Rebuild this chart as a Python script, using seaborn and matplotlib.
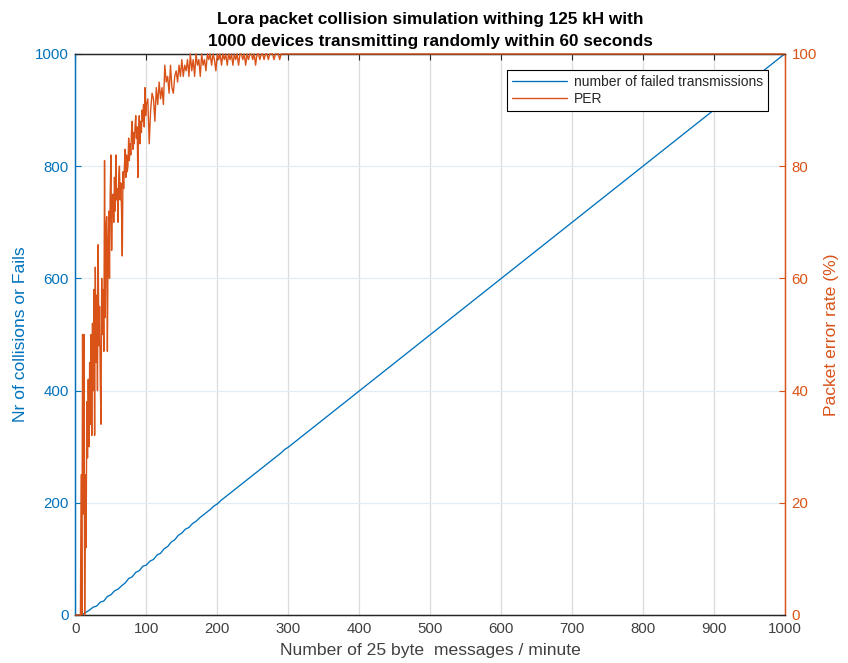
import matplotlib
matplotlib.use("Agg")
import matplotlib.pyplot as plt
import seaborn as sns
import pandas as pd

# ---------------- data ----------------
per_x = list(range(0, 101)) + list(range(102, 302, 2)) + [1000]
per_y = [
    0, 0, 0, 0, 0, 0, 0, 0, 25, 0,
    50, 18, 50, 0, 25, 12, 38, 28, 42, 30,
    45, 34, 50, 32, 52, 40, 58, 32, 62, 45,
    57, 40, 66, 48, 55, 42, 34, 60, 50, 58,
    47, 81, 53, 69, 71, 47, 66, 72, 60, 75,
    82, 65, 74, 75, 70, 78, 72, 82, 74, 76,
    70, 78, 80, 74, 77, 72, 64, 79, 76, 80,
    83, 78, 82, 79, 80, 85, 81, 84, 82, 86,
    88, 83, 86, 84, 87, 89, 85, 87, 78, 86,
    89, 84, 88, 86, 90, 88, 91, 87, 94, 89,
    91,
    # 102 .. 300 step 2
    92, 84, 90, 93, 92, 88, 94, 91, 95, 92,
    94, 91, 98, 95, 96, 93, 98, 94, 93, 96,
    97, 95, 98, 96, 99, 96, 98, 97, 99, 96,
    100, 97, 99, 96, 100, 98, 99, 96, 100, 98,
    99, 97, 100, 99, 100, 98, 100, 99, 97, 100,
    99, 100, 98, 100, 99, 100, 98, 100, 99, 100,
    98, 100, 99, 100, 98, 100, 100, 99, 100, 98,
    100, 99, 100, 100, 99, 100, 98, 100, 100, 99,
    100, 100, 99, 100, 100, 99, 100, 100, 100, 99,
    100, 100, 100, 99, 100, 100, 100, 100, 100, 100,
    # 1000
    100,
]

fail_x = list(range(0, 305, 5)) + [1000]
fail_y = [
    0, 0, 1, 5, 9, 14, 16, 23, 25, 33,
    36, 43, 46, 52, 57, 65, 68, 76, 79, 87,
    89, 96, 99, 107, 110, 118, 122, 130, 134, 142,
    146, 153, 156, 163, 167, 173, 178, 183, 188, 194,
    198, 204, 209, 214, 219, 224, 229, 234, 239, 244,
    249, 254, 259, 264, 269, 274, 279, 284, 289, 295,
    299, 1000,
]

x_ticks = [0, 100, 200, 300, 400, 500, 600, 700, 800, 900, 1000]
left_ticks = [0, 200, 400, 600, 800, 1000]
right_ticks = [0, 20, 40, 60, 80, 100]

title = ("Lora packet collision simulation withing 125 kH with\n"
         "1000 devices transmitting randomly within 60 seconds")
xlabel = "Number of 25 byte  messages / minute"
ylabel_left = "Nr of collisions or Fails"
ylabel_right = "Packet error rate (%)"
legend_labels = ["number of failed transmissions", "PER"]

# ---------------- style ----------------
sns.set_style("white")
plt.rcParams["font.family"] = ["Liberation Sans", "DejaVu Sans"]

BLUE = "#0072BD"
ORANGE = "#D95319"
AXGRAY = "#262626"

fig = plt.figure(figsize=(8.48, 6.63), dpi=100)
ax = fig.add_axes([0.0890, 0.0724, 0.8362, 0.8462])
ax2 = ax.twinx()

df_fail = pd.DataFrame({"x": fail_x, "y": fail_y})
df_per = pd.DataFrame({"x": per_x, "y": per_y})

sns.lineplot(data=df_fail, x="x", y="y", ax=ax, color=BLUE, linewidth=0.95,
             label=legend_labels[0], legend=False)
sns.lineplot(data=df_per, x="x", y="y", ax=ax2, color=ORANGE, linewidth=1.0,
             label=legend_labels[1], legend=False)
for ln in ax2.get_lines():
    ln.set_clip_on(False)
    ln.set_zorder(3)

ax.set_xlim(0, 1000)
ax.set_ylim(0, 1000)
ax2.set_ylim(0, 100)
ax.set_xticks(x_ticks)
ax.set_yticks(left_ticks)
ax2.set_yticks(right_ticks)

# grid
ax.grid(True, axis="x", color="#dcdcdc", linewidth=0.9)
ax.grid(True, axis="y", color="#e1ecf5", linewidth=0.9)
ax.set_axisbelow(True)

# ticks and colours
ax.tick_params(axis="x", direction="in", length=4, colors=AXGRAY, labelsize=10.8,
               top=True, labelcolor="#404040", pad=5)
ax.tick_params(axis="y", direction="in", length=4, color=BLUE, labelcolor=BLUE,
               labelsize=10.8, pad=5)
ax2.tick_params(axis="y", direction="in", length=4, color=ORANGE, labelcolor=ORANGE,
                labelsize=10.8, pad=5)

for a in (ax, ax2):
    a.spines["top"].set_color(AXGRAY)
    a.spines["bottom"].set_color(AXGRAY)
    a.spines["left"].set_color(BLUE)
    a.spines["right"].set_color(ORANGE)
    for s in a.spines.values():
        s.set_linewidth(0.9)
        s.set_zorder(2)

ax.set_xlabel(xlabel, fontsize=12.6, color="#404040", labelpad=5)
ax.set_ylabel(ylabel_left, fontsize=12.6, color=BLUE, labelpad=5)
ax2.set_ylabel(ylabel_right, fontsize=12.6, color=ORANGE, labelpad=5)
ax.set_title(title, fontsize=12.3, fontweight="bold", color="black", pad=6,
             linespacing=1.55)

h1, l1 = ax.get_legend_handles_labels()
h2, l2 = ax2.get_legend_handles_labels()
leg = ax2.legend(h1 + h2, l1 + l2, loc="upper right",
                 bbox_to_anchor=(0.977, 0.972), borderaxespad=0,
                 fontsize=10, frameon=True, fancybox=False,
                 handlelength=4.0, handletextpad=0.5, borderpad=0.35,
                 labelspacing=0.25)
leg.get_frame().set_edgecolor("black")
leg.get_frame().set_linewidth(0.8)
leg.get_frame().set_alpha(1)
leg.set_zorder(5)

fig.savefig("out.png", dpi=100)
